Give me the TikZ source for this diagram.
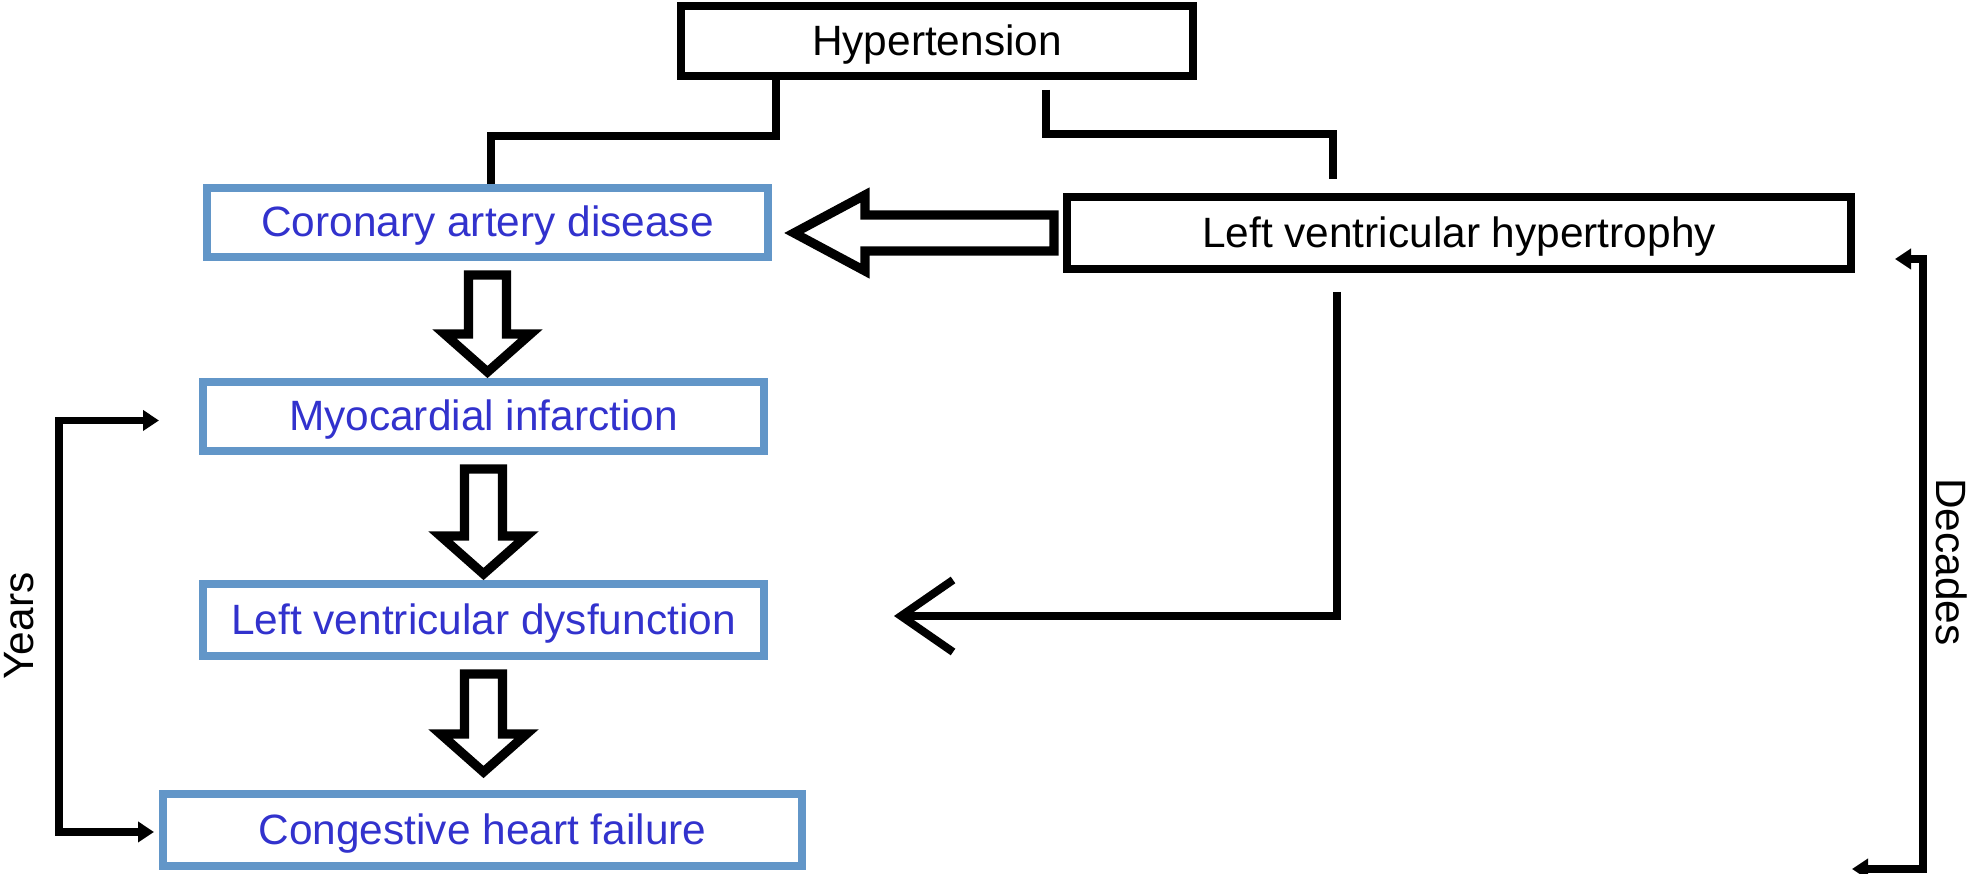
\documentclass[tikz,border=0pt]{standalone}
\usepackage{fontspec}
\setmainfont{Liberation Sans}
\usetikzlibrary{calc,arrows.meta}
\definecolor{boxblue}{RGB}{98,150,200}
\definecolor{textblue}{RGB}{50,50,205}
\tikzset{
  base/.style={inner sep=0pt, font=\fontsize{10.6}{12}\selectfont},
  boxtext/.style={base, text height=0.72em, text depth=0pt},
  blackbox/.style={boxtext, draw=black, line width=2pt},
  bluebox/.style={boxtext, draw=boxblue, text=textblue, line width=2pt},
  conn/.style={line width=2pt, black},
  hollow/.style={draw=black, fill=white, line width=2.3pt, line join=miter},
  bracket/.style={line width=1.8pt, black, {Triangle[length=4pt,width=5pt]}-{Triangle[length=4pt,width=5pt]}},
  sidelabel/.style={base, text=black}
}
\newcommand\hollowdown[3]{%
  \path (#1.south) ++(0,14) coordinate (ht);
  \path (ht |- #2.north) ++(0,-#3) coordinate (hb);
  \draw[hollow] ($(ht)+(-19,0)$) -- ($(ht)+(19,0)$) -- ($(hb)+(19,-38)$) -- ($(hb)+(43,-38)$)
     -- (hb) -- ($(hb)+(-43,-38)$) -- ($(hb)+(-19,-38)$) -- cycle;
}
\begin{document}
\begin{tikzpicture}[x=0.25pt,y=-0.25pt]
\useasboundingbox (0,0) rectangle (1981,874);
% boxes
\node[blackbox, minimum width=128pt, minimum height=17.5pt] (hyp) at (937,41) {Hypertension};
\node[bluebox, minimum width=140.25pt, minimum height=17.25pt] (cad) at (487.5,222.5) {Coronary artery disease};
\node[blackbox, minimum width=196pt, minimum height=18pt] (lvh) at (1459,233) {Left ventricular hypertrophy};
\node[bluebox, minimum width=140.25pt, minimum height=17.25pt] (mi) at (483.5,416.5) {Myocardial infarction};
\node[bluebox, minimum width=140.25pt, minimum height=18pt] (lvd) at (483.5,620) {Left ventricular dysfunction};
\node[bluebox, minimum width=159.75pt, minimum height=18pt] (chf) at (482.5,830) {Congestive heart failure};
% hypertension connectors
\draw[conn] ([xshift=-40.25pt]hyp.south) -- ++(0,56) -| ([xshift=0.75pt]cad.north);
\draw[conn] ([xshift=27.25pt,yshift=-2.5pt]hyp.south) -- ++(0,44) -| ([xshift=-31.5pt,yshift=3.5pt]lvh.north);
% hollow arrow LVH -> CAD
\coordinate (lt) at ($(lvh.west)+(-9,0)$);
\coordinate (lp) at ($(cad.east |- lvh.west)+(22,0)$);
\draw[hollow] ($(lt)+(0,-18)$) -- ($(lp)+(71,-18)$) -- ($(lp)+(71,-38)$) -- (lp)
   -- ($(lp)+(71,38)$) -- ($(lp)+(71,18)$) -- ($(lt)+(0,18)$) -- cycle;
% hollow down arrows
\hollowdown{cad}{mi}{6}
\hollowdown{mi}{lvd}{6}
\hollowdown{lvd}{chf}{18}
% LVH -> LVD line arrow
\coordinate (lvdtip) at ($(lvd.east)+(126,-4)$);
\draw[conn, -{Straight Barb[length=13pt,width=18pt,line width=2pt]}]
   ([xshift=-30.5pt,yshift=-4.75pt]lvh.south) |- (lvdtip);
% Years bracket
\coordinate (ytop) at ($(mi.west)+(-40,4)$);
\coordinate (ybot) at ($(chf.west)+(-5,2)$);
\coordinate (yv) at (59,626);
\draw[bracket] (ytop) -| (yv) |- (ybot);
\node[sidelabel, rotate=90] (years) at (19,626) {Years};
% Decades bracket
\coordinate (dtop) at (1895,259);
\coordinate (dbot) at (1852,869);
\coordinate (dv) at (1923,560);
\draw[bracket] (dtop) -| (dv) |- (dbot);
\node[sidelabel, rotate=-90] (decades) at (1952,562) {Decades};
\end{tikzpicture}
\end{document}
